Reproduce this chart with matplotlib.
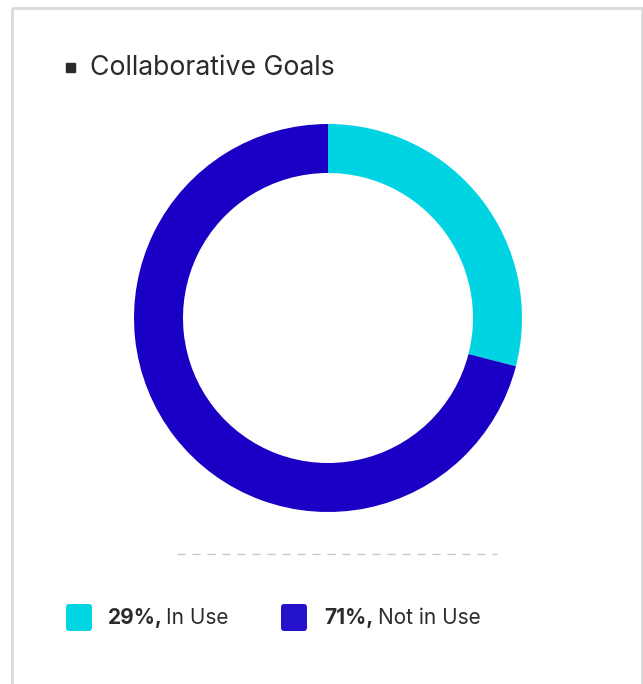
import numpy as np
import matplotlib
matplotlib.use('agg')
from matplotlib import pyplot as plt
from matplotlib.patches import Rectangle, FancyBboxPatch

plt.rcParams['font.family'] = ['Inter', 'DejaVu Sans']
plt.rcParams['lines.scale_dashes'] = False

# usage share
labels = ['In Use', 'Not in Use']
shares = [29, 71]
colors = ['#00d4e3', '#1a00c4']
swatch_colors = ['#00d5e4', '#2513cc']
title = 'Collaborative Goals'

W, H = 643, 684
fig = plt.figure(figsize=(W / 100, H / 100), dpi=100)

# overlay in pixel coordinates for the card, title and legend
bg = fig.add_axes([0, 0, 1, 1])
bg.set_xlim(0, W)
bg.set_ylim(H, 0)
bg.axis('off')

bg.add_patch(Rectangle((11.5, 7.5), 630, 700, fill=False, edgecolor='#d9d9d9', lw=2.0))

# title with small square bullet
bg.add_patch(Rectangle((66, 63), 9, 9, color='#2b2b2b'))
bg.text(90, 68, title, fontsize=19.2, color='#2b2b2b', va='center', ha='left')

# donut
cx, cy, R, r = 328, 318, 194, 145
pie_ax = fig.add_axes([(cx - R) / W, (H - cy - R) / H, 2 * R / W, 2 * R / H])
pie_ax.pie(shares, colors=colors, startangle=90, counterclock=False,
           wedgeprops=dict(width=(R - r) / R, linewidth=0))
pie_ax.set_xlim(-1, 1)
pie_ax.set_ylim(-1, 1)
pie_ax.axis('off')

# dashed separator
bg.plot([177, 497], [554, 554], color='#c8c8c8', lw=1.0, linestyle=(0, (5.8, 5.0)))

# legend
sw_x = [66, 281]
pct_x = [108, 324]
lab_x = [166, 378]
ly = 618
for i in range(len(labels)):
    bg.add_patch(FancyBboxPatch((sw_x[i] + 3, ly - 11), 20, 21,
                                boxstyle='round,pad=3', color=swatch_colors[i], lw=0))
    bg.text(pct_x[i], ly, '{}%,'.format(shares[i]), fontsize=15, fontweight='bold',
            color='#2b2b2b', va='center', ha='left')
    bg.text(lab_x[i], ly, labels[i], fontsize=15, color='#2b2b2b', va='center', ha='left')

fig.savefig('out.png', dpi=100)
